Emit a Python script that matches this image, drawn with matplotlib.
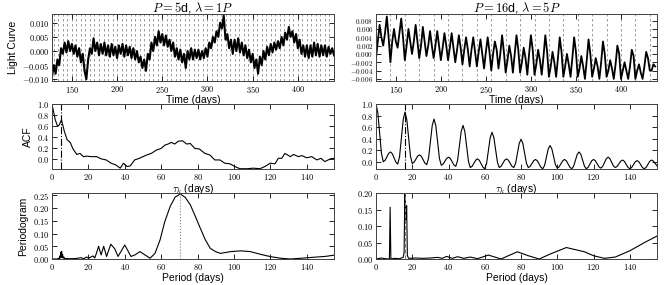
import matplotlib
matplotlib.use("Agg")
import matplotlib.pyplot as plt
import numpy as np
from matplotlib.ticker import FuncFormatter, MultipleLocator

plt.rcParams['font.family'] = ['Liberation Sans', 'DejaVu Sans']
plt.rcParams['mathtext.fontset'] = 'cm'

# ---------------- data ----------------
# Left: P = 5 d, lambda = 1P
lc1_t = np.arange(128, 441, 2)
lc1_f = [-9, -5, -8, -3, -5, 1, -1, 3, -0.5, 3.5, 0, 2.5, -1, 2, -2, 1, -4, -1, -7, -10,
         -3, 1, -1, 4.5, 0, 3, -1.5, 2.5, -1, 3, -1.5, 2, -2, 2.5, -1.5, 1.5, -2.5, 2, -1, 2.5,
         -2, 2, -1.5, 1.5, -2.5, 1, -3, 0, -4, -2, -6, -3, -7, -1, -3, 3, 0, 5, 2, 7,
         3, 6, 2, 5.5, 1.5, 4, 0, 3, -2, 1, -3, 0.5, -4, -1, -6, 0, -3, 1, -3, 0.5,
         -2.5, 0.5, -3, 0, -2.5, 1, -2, 3, 1, 5, 3, 7, 5, 10, 8, 12.5, 4, 6, 1, 4,
         -1, 4, 0, 4.5, -0.5, 3, -1.5, 2, -2.5, 0.5, -4, -1, -6, -3, -8, -2, -5, 0, -3, 1.5,
         -1.5, 2.5, -0.5, 3, 0.5, 3.5, 1, 5, 2, 6.5, 4, 8.5, 5, 7, 3, 6, 1, 4, -1, 2,
         -2, 2, -2.5, 2, -2, 3, -1.5, 2.5, -2, 2, -1.5, 2, -2, 1.5, -1, 1, -1.5]

acf1_lag = [0, 1.8, 3.1, 4, 5.2, 6.8, 8.3, 10, 11.4, 13.6, 15.4, 17.3, 19, 21.5, 24.6, 27, 29.8,
            32.5, 35, 37.5, 39.3, 41.2, 43, 45.4, 48, 52, 54.6, 57.4, 60, 62, 63.8, 65.6, 67.5,
            69.3, 71.7, 74, 76, 78.5, 81, 84, 86.8, 89.5, 92.3, 95, 97.8, 100.5, 103.3, 107,
            110.7, 114.3, 117, 119.9, 122.6, 124.4, 126.3, 128, 131, 132.7, 135.5, 137.3, 140,
            142.8, 145.6, 147.8, 150, 153, 155]
acf1_val = [1.0, 0.71, 0.59, 0.62, 0.71, 0.5, 0.35, 0.30, 0.19, 0.08, 0.10, 0.04, 0.05, 0.04,
            0.04, 0.0, -0.02, -0.08, -0.11, -0.17, -0.08, -0.14, -0.13, -0.02, 0.01, 0.07, 0.10,
            0.16, 0.19, 0.25, 0.27, 0.30, 0.27, 0.32, 0.33, 0.27, 0.28, 0.19, 0.18, 0.10, 0.07,
            -0.02, -0.02, -0.08, -0.09, -0.14, -0.18, -0.18, -0.17, -0.18, -0.14, -0.08, -0.09,
            0.01, 0.01, 0.10, 0.04, 0.08, 0.04, 0.06, 0.02, 0.04, -0.02, 0.01, -0.05, 0.0, 0.01]
acf1_period = 5.0

pg1_per = [0, 3.0, 3.5, 4.0, 4.3, 4.6, 4.9, 5.1, 5.3, 5.5, 5.8, 6.1, 6.5, 7, 8, 10, 13, 16, 17.5,
           19, 20, 21, 22.5, 23.5, 24.4, 25.6, 27, 28.4, 30, 32.3, 34.5, 36.3, 40, 41.9, 43.4,
           45.6, 48.3, 51.1, 53.9, 56.6, 59.4, 62, 65, 67.7, 70.5, 73.2, 76, 78.8, 81.5, 84.3,
           87, 89.9, 92.6, 98.2, 103.7, 109, 114.8, 120.3, 125.8, 131, 137, 144, 150, 155]
pg1_pow = [0, 0, 0.003, 0.001, 0.012, 0.004, 0.027, 0.008, 0.03, 0.006, 0.018, 0.003, 0.008,
           0.001, 0.002, 0.001, 0.002, 0.005, 0.001, 0.008, 0.003, 0.006, 0.012, 0.004, 0.022,
           0.05, 0.016, 0.05, 0.01, 0.058, 0.04, 0.01, 0.055, 0.03, 0.01, 0.016, 0.029, 0.016,
           0.003, 0.022, 0.075, 0.147, 0.207, 0.243, 0.255, 0.242, 0.213, 0.167, 0.121, 0.075,
           0.042, 0.029, 0.022, 0.029, 0.032, 0.029, 0.018, 0.009, 0.003, 0.0, 0.003, 0.007,
           0.01, 0.015]
pg1_peak = 70.5

# Right: P = 16 d, lambda = 5P
lc2_t = np.arange(128, 439, 2)
lc2_f = [-1, 3, 7, 4, 2, 5, 9, 4, -2, 3, 6, 3, 1.5, 5, 8.5, 4, -1.5, 2, 6, 3,
         0, 3, 7, 3, -1, 2, 6.5, 3, -0.5, 2, 5.5, 2, -1, 2, 5.5, 2, -1.5, 1.5, 5, 2,
         -1.5, 1.5, 5, 1.5, -2, 1, 4.5, 1.5, -2.5, 1, 4, 1, -3, 1, 4, 0.5, -3, 0.5, 3.5, 0,
         -3.5, 0.5, 4, 0.5, -4, 0, 3, 1, -3.5, 0, 4.5, 0.5, -4.5, -1.5, 2, -0.5, -4.5, 0, 4.5, 1,
         -4.5, -2, 1.5, -1, -5, 0, 4.5, 1, -5, -2.5, 1, -1.5, -5, -0.5, 4.5, 0.5, -5.5, -3, 0.5, -2,
         -5.5, -1, 4, 0.5, -5.5, -3, 0, -2.5, -5.5, -1, 4, 0.5, -5.5, -3.5, -0.5, -3, -6, -1.5, 3.5, 0,
         -5.5, -3.5, -1, -3, -6, -2, 3, 0, -5.5, -4, -1.5, -3.5, -6, -2.5, 2, 0, -6, -4, -2, -4,
         -6, -3, 1, -0.5, -6, -4, -2.5, -4.5, -6, -3, 0.5, -1, -4, -4, -2.5, -3]

acf2_lag = np.arange(0, 156, 1)
acf2_val = [1.0, 0.85, 0.5, 0.15, 0.0, 0.025, 0.085, 0.145, 0.17, 0.139, 0.065, -0.009,
            -0.04, 0.091, 0.41, 0.729, 0.86, 0.73, 0.415, 0.10, -0.03, -0.008, 0.045, 0.098,
            0.12, 0.095, 0.035, -0.025, -0.05, 0.065, 0.345, 0.625, 0.74, 0.623, 0.34, 0.057,
            -0.06, -0.04, 0.01, 0.06, 0.08, 0.057, 0.0, -0.057, -0.08, 0.024, 0.275, 0.526,
            0.63, 0.523, 0.265, 0.007, -0.10, -0.078, -0.025, 0.028, 0.05, 0.025, -0.035,
            -0.095, -0.12, -0.028, 0.195, 0.418, 0.51, 0.421, 0.205, -0.011, -0.10, -0.078,
            -0.025, 0.028, 0.05, 0.028, -0.025, -0.078, -0.10, -0.028, 0.145, 0.318, 0.39,
            0.318, 0.145, -0.028, -0.10, -0.08, -0.03, 0.02, 0.04, 0.017, -0.04, -0.097, -0.12,
            -0.062, 0.08, 0.222, 0.28, 0.223, 0.085, -0.053, -0.11, -0.088, -0.035, 0.018, 0.04,
            0.017, -0.04, -0.097, -0.12, -0.078, 0.025, 0.128, 0.17, 0.128, 0.025, -0.078, -0.12,
            -0.097, -0.04, 0.017, 0.04, 0.018, -0.035, -0.088, -0.11, -0.082, -0.015, 0.052,
            0.08, 0.054, -0.01, -0.074, -0.10, -0.081, -0.035, 0.011, 0.03, 0.008, -0.045,
            -0.098, -0.12, -0.10, -0.05, 0.0, 0.02, 0.0, -0.05, -0.10, -0.12, -0.098, -0.045,
            0.008, 0.03, 0.012, -0.03, -0.07]
acf2_period = 16.0

pg2_per = [0, 2, 3, 5, 7.4, 7.8, 8.2, 10, 13, 15, 15.5, 15.9, 16.3, 16.6, 16.9, 17.3, 18, 22, 26,
           30, 34, 36.5, 39, 42, 45, 48.5, 52, 56, 62, 69, 73, 78, 84, 90, 96, 105, 115, 120,
           126, 132, 140, 148, 155]
pg2_pow = [0, 0.002, 0.003, 0.001, 0.0, 0.158, 0.0, 0.002, 0.001, 0.005, 0.02, 0.205, 0.13,
           0.12, 0.163, 0.01, 0.002, 0.003, 0.002, 0.003, 0.005, 0.002, 0.008, 0.002, 0.007,
           0.002, 0.006, 0.001, 0.012, 0.0, 0.01, 0.022, 0.01, 0.0, 0.015, 0.035, 0.022, 0.01,
           0.002, 0.006, 0.025, 0.05, 0.07]
pg2_peak = 16.0

titles = [r"$P = 5$d, $\lambda = 1P$", r"$P = 16$d, $\lambda = 5P$"]

# ---------------- figure ----------------
fig = plt.figure(figsize=(6.64, 2.85), dpi=100)
W = 664.0
H = 285.0
cols = [(52, 282), (376, 281)]
rows = [(14, 81), (104, 169), (193, 259)]

def mk(c, r):
    x0, w = cols[c]
    y0, y1 = rows[r]
    return fig.add_axes([x0 / W, 1 - y1 / H, w / W, (y1 - y0) / H])

def fmt(dec):
    return FuncFormatter(lambda v, p: r"$%s$" % (("%." + str(dec) + "f") % v))

def style(ax, ls=6):
    ax.tick_params(direction='in', top=True, right=True, length=3.5, width=0.6,
                   labelsize=ls, pad=2)
    for s in ax.spines.values():
        s.set_linewidth(0.7)
        s.set_color('0.25')

LW = 0.8
lcs = [(lc1_t, lc1_f, 5, (128, 440), (-0.0106, 0.0131), 0.005, 1.5, 6),
       (lc2_t, lc2_f, 16, (128, 440), (-0.0065, 0.0096), 0.002, 1.3, 5.1)]
acfs = [(acf1_lag, acf1_val, acf1_period, (-0.185, 1.0)),
        (acf2_lag, acf2_val, acf2_period, (-0.125, 1.0))]
pgs = [(pg1_per, pg1_pow, pg1_peak, (0, 0.259), 0.05, ':'),
       (pg2_per, pg2_pow, pg2_peak, (0, 0.2015), 0.05, '--')]

for c in range(2):
    t, f, P, xl, yl, ystep, lw, lsz = lcs[c]
    ax = mk(c, 0)
    style(ax, lsz)
    ax.tick_params(axis='x', labelsize=6)
    for x in np.arange(0, 500, P):
        if xl[0] < x < xl[1]:
            ax.axvline(x, color='0.55', ls=(0, (3, 3)), lw=0.6, zorder=1)
    ax.plot(t, np.asarray(f) * 1e-3, color='k', lw=lw, zorder=2)
    ax.set_xlim(*xl)
    ax.set_ylim(*yl)
    ax.xaxis.set_major_locator(MultipleLocator(50))
    ax.yaxis.set_major_locator(MultipleLocator(ystep))
    ax.xaxis.set_major_formatter(fmt(0))
    ax.yaxis.set_major_formatter(fmt(3))
    ax.set_xlabel("Time (days)", fontsize=7.5, labelpad=0.5)
    ax.set_title(titles[c], fontsize=9, pad=2)
    if c == 0:
        ax.set_ylabel("Light Curve", fontsize=7.5, labelpad=3)

    lag, val, per, ylim = acfs[c]
    ax = mk(c, 1)
    style(ax)
    ax.plot(lag, val, color='k', lw=LW)
    ax.axvline(per, color='k', ls='-.', lw=0.8)
    ax.set_xlim(0, 155)
    ax.set_ylim(*ylim)
    ax.xaxis.set_major_locator(MultipleLocator(20))
    ax.yaxis.set_major_locator(MultipleLocator(0.2))
    ax.xaxis.set_major_formatter(fmt(0))
    ax.yaxis.set_major_formatter(fmt(1))
    ax.set_xlabel(r"$\tau_k$ (days)", fontsize=7.5, labelpad=0)
    if c == 0:
        ax.set_ylabel("ACF", fontsize=7.5, labelpad=3)

    pp, pw, pk, ylim, ys, ls = pgs[c]
    ax = mk(c, 2)
    style(ax)
    ax.plot(pp, pw, color='k', lw=LW, zorder=2)
    ax.axvline(pk, color='0.5', ls=ls, lw=0.8, zorder=3)
    ax.set_xlim(0, 155)
    ax.set_ylim(*ylim)
    ax.xaxis.set_major_locator(MultipleLocator(20))
    ax.yaxis.set_major_locator(MultipleLocator(ys))
    ax.xaxis.set_major_formatter(fmt(0))
    ax.yaxis.set_major_formatter(fmt(2))
    ax.set_xlabel("Period (days)", fontsize=7.5, labelpad=1)
    if c == 0:
        ax.set_ylabel("Periodogram", fontsize=7.5, labelpad=3)

fig.savefig("out.png", dpi=100)
